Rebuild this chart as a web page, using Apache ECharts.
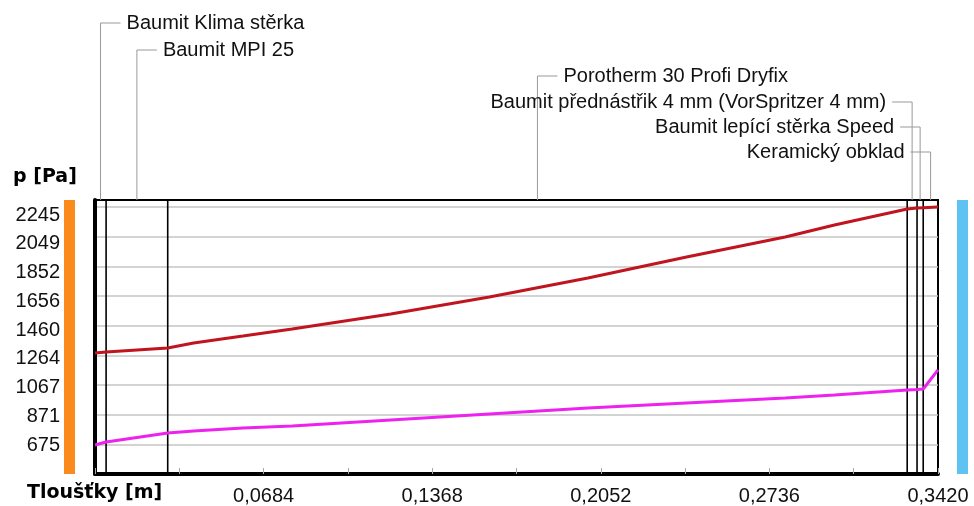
<!DOCTYPE html>
<html><head><meta charset="utf-8">
<script src="https://cdn.jsdelivr.net/npm/echarts@6/dist/echarts.min.js"></script>
<style>html,body{margin:0;padding:0;background:#fff}#c{width:974px;height:506px}</style>
</head><body><div id="c"></div>
<script>
// Layer names and boundaries (m)
const layerNames = ['Baumit Klima stěrka','Baumit MPI 25','Porotherm 30 Profi Dryfix','Baumit přednástřik 4 mm (VorSpritzer 4 mm)','Baumit lepící stěrka Speed','Keramický obklad'];
const layerBounds = [0, 0.0045, 0.0295, 0.3295, 0.3335, 0.336, 0.342];
// Positions along thickness (m)
const thickness = [0, 0.0045, 0.0295, 0.04, 0.06, 0.08, 0.12, 0.16, 0.20, 0.24, 0.28, 0.30, 0.3295, 0.3335, 0.336, 0.342];
// Saturated vapour pressure (red) and partial pressure (magenta), Pa
const pSat = [1279, 1286, 1312, 1345, 1391, 1438, 1537, 1649, 1775, 1914, 2046, 2126, 2231, 2238, 2240, 2245];
const pPart = [671, 690, 750, 763, 783, 796, 836, 876, 915, 948, 981, 1001, 1034, 1038, 1041, 1167];
// Y tick labels
const yTicks = [675, 871, 1067, 1264, 1460, 1656, 1852, 2049, 2245];
const xTitle = 'Tloušťky [m]';
const yTitle = 'p [Pa]';

const FONT = 'Liberation Sans';
const Y_MIN = 478.75, Y_MAX = 2291;
const chart = echarts.init(document.getElementById('c'), null, {renderer:'canvas'});
const grid = {left:95, right:36, top:200, bottom:32, show:true, borderColor:'#000', borderWidth:2};

const boundarySeries = layerBounds.slice(1, -1).map(b => ({
  type:'line', data:[[b, Y_MIN],[b, Y_MAX]], symbol:'none', silent:true,
  lineStyle:{color:'#000', width:1.6}, z:2
}));

chart.setOption({
  animation:false,
  grid: grid,
  xAxis: {
    type:'value', min:0, max:0.342, interval:0.0684,
    axisLine:{show:true, lineStyle:{color:'#000', width:4}},
    axisTick:{show:true, inside:true, length:6, lineStyle:{color:'#aaa'}},
    minorTick:{show:true, splitNumber:2, length:6, lineStyle:{color:'#aaa'}},
    splitLine:{show:false},
    axisLabel:{fontFamily:FONT, fontSize:20, color:'#111', margin:12,
      formatter: v => v === 0 ? '' : v.toFixed(4).replace('.', ',')}
  },
  yAxis: [{
    type:'value', min:Y_MIN, max:Y_MAX,
    axisLine:{show:true, lineStyle:{color:'#000', width:4}},
    axisTick:{show:false, customValues: yTicks},
    axisLabel:{show:false},
    splitLine:{show:true, lineStyle:{color:'#c4c4c4', width:1.5}}
  },{
    type:'value', min:477, max:2347.4, position:'left',
    axisLine:{show:false}, axisTick:{show:false}, splitLine:{show:false},
    axisLabel:{customValues: yTicks, fontFamily:FONT, fontSize:20, color:'#111', margin:35, align:'right',
      formatter: v => String(v)}
  }],
  series: boundarySeries.concat([{
    type:'line', data: thickness.map((t,i)=>[t,pSat[i]]), symbol:'none',
    lineStyle:{color:'#c0141e', width:3}, z:3
  },{
    type:'line', data: thickness.map((t,i)=>[t,pPart[i]]), symbol:'none',
    lineStyle:{color:'#ee22ee', width:3}, z:3
  }])
});

// Annotations: leader lines and layer names, orange/blue side bars, axis titles
const labelY = [23, 50, 76, 102, 127, 152];
const topY = chart.convertToPixel({yAxisIndex:0}, Y_MAX);
const botY = chart.convertToPixel({yAxisIndex:0}, Y_MIN);
const leftX = chart.convertToPixel({xAxisIndex:0}, 0);
const rightX = chart.convertToPixel({xAxisIndex:0}, 0.342);
const g = [];
layerNames.forEach((name, i) => {
  const mid = (layerBounds[i] + layerBounds[i+1]) / 2;
  const x = chart.convertToPixel({xAxisIndex:0}, mid);
  const y = labelY[i];
  const right = i < 3;
  const x2 = right ? x + 20 : x - 20;
  g.push({type:'polyline', silent:true, shape:{points:[[x, topY],[x, y],[x2, y]]},
    style:{stroke:'#999', lineWidth:1, fill:null}});
  g.push({type:'text', silent:true, x: right ? x2 + 6 : x2 - 6, y: y,
    style:{text:name, fontFamily:FONT, fontSize:20, fill:'#111', align: right ? 'left' : 'right', verticalAlign:'middle'}});
});
g.push({type:'rect', silent:true, shape:{x:leftX-31, y:topY, width:11, height:botY-topY}, style:{fill:'#fb8a1c'}});
g.push({type:'rect', silent:true, shape:{x:rightX+19, y:topY, width:11, height:botY-topY}, style:{fill:'#5ec3f3'}});
g.push({type:'text', silent:true, x:13, y:177, style:{text:yTitle, fontFamily:'DejaVu Sans', fontWeight:'bold', fontSize:19, fill:'#000', verticalAlign:'middle'}});
g.push({type:'text', silent:true, x:27, y:493, style:{text:xTitle, fontFamily:'DejaVu Sans', fontWeight:'bold', fontSize:19, fill:'#000', verticalAlign:'middle'}});
chart.setOption({graphic:g});
</script></body></html>
